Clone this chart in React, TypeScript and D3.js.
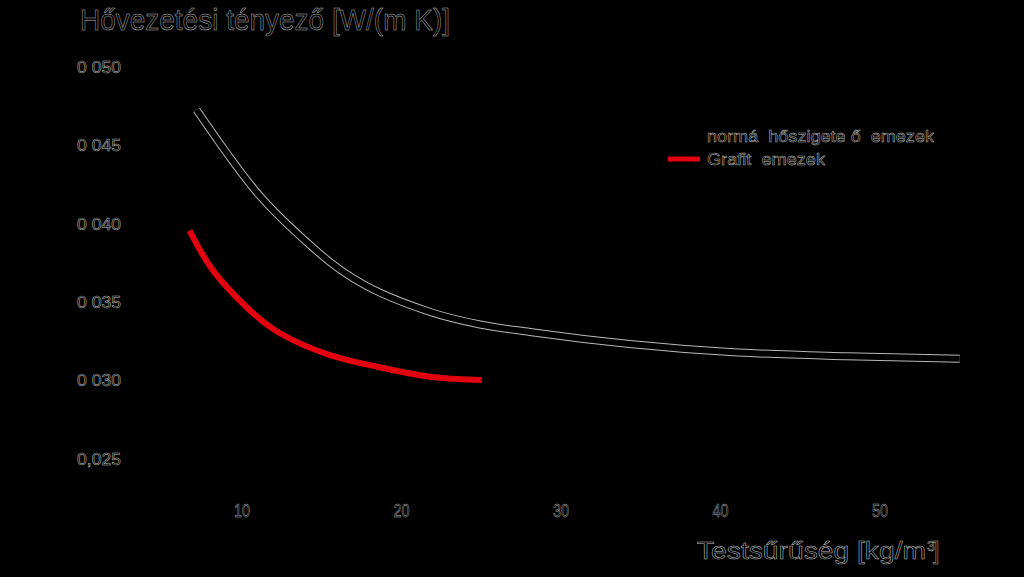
import React from "react";
import * as d3 from "d3";

const xTicks = [10, 20, 30, 40, 50];
const xTickLabels = ["10", "20", "30", "40", "50"];
const yTicks = [0.05, 0.045, 0.04, 0.035, 0.03, 0.025];
const yTickLabels = ["0 050", "0 045", "0 040", "0 035", "0 030", "0,025"];

const normalX = [7.16, 11.07, 14.26, 15.52, 21.79, 24.92, 28.05, 40.6, 47.9, 55.0];
const normalY = [0.04726, 0.04184, 0.03865, 0.03756, 0.03438, 0.03358, 0.0331, 0.03182, 0.03155, 0.0314];

const grafitX = [6.71, 8.2, 10.29, 12.38, 15.52, 18.65, 21.79, 25.03];
const grafitY = [0.03957, 0.037, 0.03468, 0.03302, 0.03163, 0.03085, 0.03025, 0.03004];

const seriesNames = ["normá  hőszigete ő  emezek", "Grafit  emezek"];
const titleText = "Hővezetési tényező [W/(m K)]";
const xTitleText = "Testsűrűség [kg/m";

const W = 1024;
const H = 577;

const OUT = "#b8b8b8";
const FONT = "'Liberation Sans', Arial, sans-serif";

export default function App() {
  const x = d3.scaleLinear().domain([10, 50]).range([242, 880]);
  const y = d3.scaleLinear().domain([0.025, 0.05]).range([459, 67]);

  const lineMono = d3
    .line<[number, number]>()
    .x((d) => x(d[0]))
    .y((d) => y(d[1]))
    .curve(d3.curveMonotoneX);
  const lineNat = d3
    .line<[number, number]>()
    .x((d) => x(d[0]))
    .y((d) => y(d[1]))
    .curve(d3.curveNatural);

  const normalPts: [number, number][] = normalX.map((v, i) => [v, normalY[i]]);
  const grafitPts: [number, number][] = grafitX.map((v, i) => [v, grafitY[i]]);
  const normalPath = lineMono(normalPts) || "";
  const grafitPath = lineNat(grafitPts) || "";

  const outlined = {
    fill: "#000",
    stroke: OUT,
    strokeWidth: 0.5,
    fontFamily: FONT,
    whiteSpace: "pre" as const,
  };

  return (
    <div style={{ position: "fixed", left: 0, top: 0, width: W, height: H, background: "#000" }}>
      <svg width={W} height={H} style={{ display: "block", background: "#000" }}>
        <rect x={0} y={0} width={W} height={H} fill="#000" />
        {/* title */}
        <text x={80} y={30} fontSize={30} textLength={370} lengthAdjust="spacingAndGlyphs" style={outlined}>
          {titleText}
        </text>
        {/* y tick labels */}
        {yTicks.map((t, i) => (
          <text
            key={"y" + i}
            x={77}
            y={y(t)}
            dy="0.36em"
            fontSize={16}
            textLength={44}
            lengthAdjust="spacingAndGlyphs"
            style={outlined}
          >
            {yTickLabels[i]}
          </text>
        ))}
        {/* x tick labels */}
        {xTicks.map((t, i) => (
          <text
            key={"x" + i}
            x={x(t) - 8}
            y={517}
            fontSize={19}
            textLength={16}
            lengthAdjust="spacingAndGlyphs"
            style={outlined}
          >
            {xTickLabels[i]}
          </text>
        ))}
        {/* x axis title */}
        <text x={697} y={559} fontSize={23} textLength={229} lengthAdjust="spacingAndGlyphs" style={outlined}>
          {xTitleText}
        </text>
        <text x={927} y={551} fontSize={14} style={outlined}>
          3
        </text>
        <text x={933} y={559} fontSize={23} style={outlined}>
          ]
        </text>
        {/* normal series: black line with light outline */}
        <path d={normalPath} fill="none" stroke={OUT} strokeWidth={8} strokeLinecap="butt" />
        <path d={normalPath} fill="none" stroke="#000" strokeWidth={6} strokeLinecap="butt" />
        {/* grafit series */}
        <path d={grafitPath} fill="none" stroke="#e3000f" strokeWidth={6} strokeLinecap="butt" />
        {/* legend */}
        <text x={707} y={141.7} fontSize={17} textLength={227} lengthAdjust="spacingAndGlyphs" style={outlined}>
          {seriesNames[0]}
        </text>
        <line x1={668} x2={700} y1={159} y2={159} stroke="#e3000f" strokeWidth={5} />
        <text x={707} y={165} fontSize={17} textLength={118} lengthAdjust="spacingAndGlyphs" style={outlined}>
          {seriesNames[1]}
        </text>
      </svg>
    </div>
  );
}
